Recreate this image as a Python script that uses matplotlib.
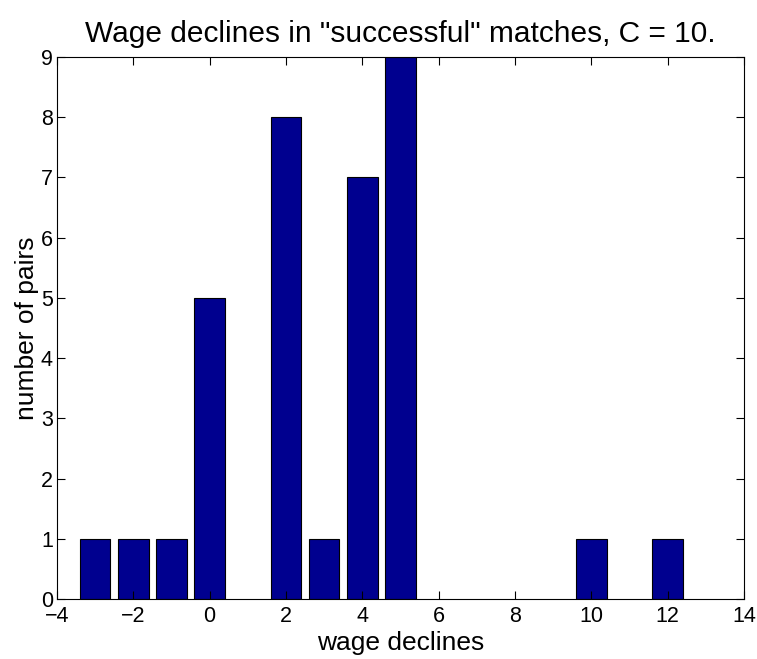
import matplotlib
matplotlib.use("Agg")
import matplotlib.pyplot as plt

# wage decline values and number of pairs
declines = [-3, -2, -1, 0, 2, 3, 4, 5, 10, 12]
pairs = [1, 1, 1, 5, 8, 1, 7, 9, 1, 1]
xticks = [-4, -2, 0, 2, 4, 6, 8, 10, 12, 14]
yticks = list(range(0, 10))

plt.rcParams['font.family'] = ['Liberation Sans', 'DejaVu Sans']

fig = plt.figure(figsize=(7.57, 6.59), dpi=100)
ax = fig.add_axes([57 / 757, 60 / 659, 687 / 757, 542 / 659])

ax.bar(declines, pairs, width=0.8, color='#00008F', edgecolor='black', linewidth=0.8)

ax.set_xlim(-4, 14)
ax.set_ylim(0, 9)
ax.set_xticks(xticks)
ax.set_yticks(yticks)
ax.tick_params(direction='in', top=True, right=True, labelsize=15.5, length=6, width=0.8)
ax.tick_params(axis='x', pad=5)
ax.tick_params(axis='y', pad=3)
for s in ax.spines.values():
    s.set_linewidth(0.8)

ax.set_xlabel("wage declines", fontsize=19, labelpad=3)
ax.set_ylabel("number of pairs", fontsize=19)
ax.yaxis.set_label_coords(-0.026, 0.5)
ax.set_title('Wage declines in "successful" matches, C = 10.', fontsize=21.5, pad=11)

fig.savefig("out.png", dpi=100)
